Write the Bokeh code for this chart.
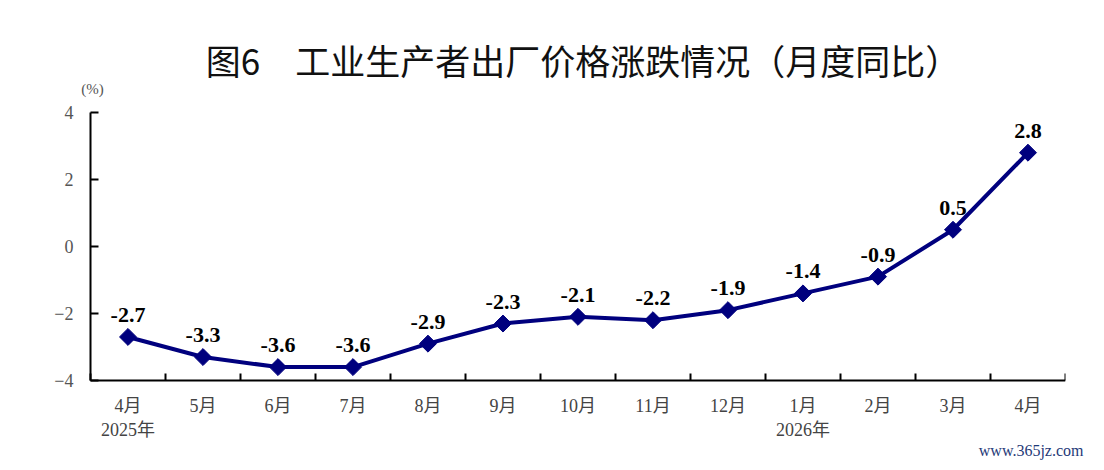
from bokeh.plotting import figure
from bokeh.models import (ColumnDataSource, FixedTicker, LinearAxis, Range1d, Title)
from bokeh.core.properties import value
from bokeh.embed import file_html
from bokeh.resources import INLINE

months = ["4月", "5月", "6月", "7月", "8月", "9月", "10月", "11月", "12月", "1月", "2月", "3月", "4月"]
years = {0: "2025年", 9: "2026年"}
ppi = [-2.7, -3.3, -3.6, -3.6, -2.9, -2.3, -2.1, -2.2, -1.9, -1.4, -0.9, 0.5, 2.8]
y_ticks = [-4, -2, 0, 2, 4]
title_text = "图6　工业生产者出厂价格涨跌情况（月度同比）"
unit_text = "(%)"
watermark = "www.365jz.com"

SERIF = "'Liberation Serif', 'Noto Sans CJK SC'"
NAVY = "#00007e"

n = len(months)
xs = list(range(n))
src = ColumnDataSource(dict(x=xs, y=ppi, lab=[f"{v:.1f}" for v in ppi]))

# layout (pixels): axis area 975 x 268, 75 px per month, 33.5 px per y unit
px_x = 75.0
px_y = 33.5
left_pad = 50
top_pad = 92
bottom_pad = 14
x_start = -0.5 - left_pad / px_x
y_end = y_ticks[-1] + top_pad / px_y
y_start = y_ticks[0] - bottom_pad / px_y

p = figure(width=1088, height=462, output_backend="svg", toolbar_location=None,
           x_range=Range1d(x_start, n - 0.5), y_range=Range1d(y_start, y_end),
           min_border_left=40, min_border_right=23, min_border_top=20, min_border_bottom=68,
           x_axis_type=None, y_axis_type=None)
p.outline_line_color = None
p.grid.visible = False
p.background_fill_color = "white"
p.border_fill_color = "white"

# y axis
ya = LinearAxis(ticker=FixedTicker(ticks=y_ticks), fixed_location=-0.5,
                bounds=(y_ticks[0], y_ticks[-1]))
ya.major_label_overrides = {t: (f"−{abs(t)}" if t < 0 else str(t)) for t in y_ticks}
ya.axis_line_width = 2
ya.axis_line_color = "black"
ya.major_tick_in = 8
ya.major_tick_out = 0
ya.major_tick_line_width = 2
ya.minor_tick_line_color = None
ya.major_label_text_font = SERIF
ya.major_label_text_font_size = "18px"
ya.major_label_text_color = "#555555"
ya.major_label_standoff = 17
p.add_layout(ya, "left")

# x axis with boundary ticks
xa = LinearAxis(ticker=FixedTicker(ticks=[i - 0.5 for i in range(n + 1)]),
                bounds=(-0.5, n - 0.5), fixed_location=y_ticks[0])
xa.major_label_overrides = {i - 0.5: " " for i in range(n + 1)}
xa.major_label_text_font_size = "1px"
xa.major_label_standoff = 0
xa.axis_line_width = 2
xa.axis_line_color = "black"
xa.major_tick_in = 7
xa.major_tick_out = 0
xa.major_tick_line_width = 2
xa.minor_tick_line_color = None
p.add_layout(xa, "below")

# month labels
xm = LinearAxis(ticker=FixedTicker(ticks=xs))
xm.major_label_overrides = {i: m for i, m in enumerate(months)}
xm.axis_line_color = None
xm.major_tick_line_color = None
xm.minor_tick_line_color = None
xm.major_label_text_font = SERIF
xm.major_label_text_font_size = "18px"
xm.major_label_text_color = "#444444"
xm.major_label_standoff = -5
p.add_layout(xm, "below")

# year labels
xy = LinearAxis(ticker=FixedTicker(ticks=list(years.keys())))
xy.major_label_overrides = years
xy.axis_line_color = None
xy.major_tick_line_color = None
xy.minor_tick_line_color = None
xy.major_label_text_font = SERIF
xy.major_label_text_font_size = "18px"
xy.major_label_text_color = "#444444"
xy.major_label_standoff = -5
p.add_layout(xy, "below")

p.add_layout(Title(text=watermark, align="right", offset=-18, standoff=-6,
                   text_font="Liberation Serif", text_font_size="16px",
                   text_font_style="normal", text_color="#1f3a78"), "below")

p.line("x", "y", source=src, line_color=NAVY, line_width=4)
p.scatter("x", "y", source=src, marker="square", angle=0.785398, size=12,
          fill_color=NAVY, line_color=NAVY)

p.text("x", "y", text="lab", source=src, text_font=value("Liberation Serif"),
       text_font_style="bold", text_font_size="22px", text_color="black",
       text_align="center", text_baseline="bottom", y_offset=-15)

# title and unit, anchored to the top of the y axis
p.text(x=[(n - 1) / 2], y=[y_ticks[-1]], text=[title_text], y_offset=-53, x_offset=5,
       text_font=value("Noto Sans CJK SC"), text_font_size="35px", text_color="#111111",
       text_align="center", text_baseline="middle")
p.text(x=[-0.5], y=[y_ticks[-1]], text=[unit_text], y_offset=-24, x_offset=2,
       text_font=value("Liberation Serif"), text_font_size="15px", text_color="#555555",
       text_align="center", text_baseline="middle")

open("out.html", "w").write(file_html(p, INLINE))
